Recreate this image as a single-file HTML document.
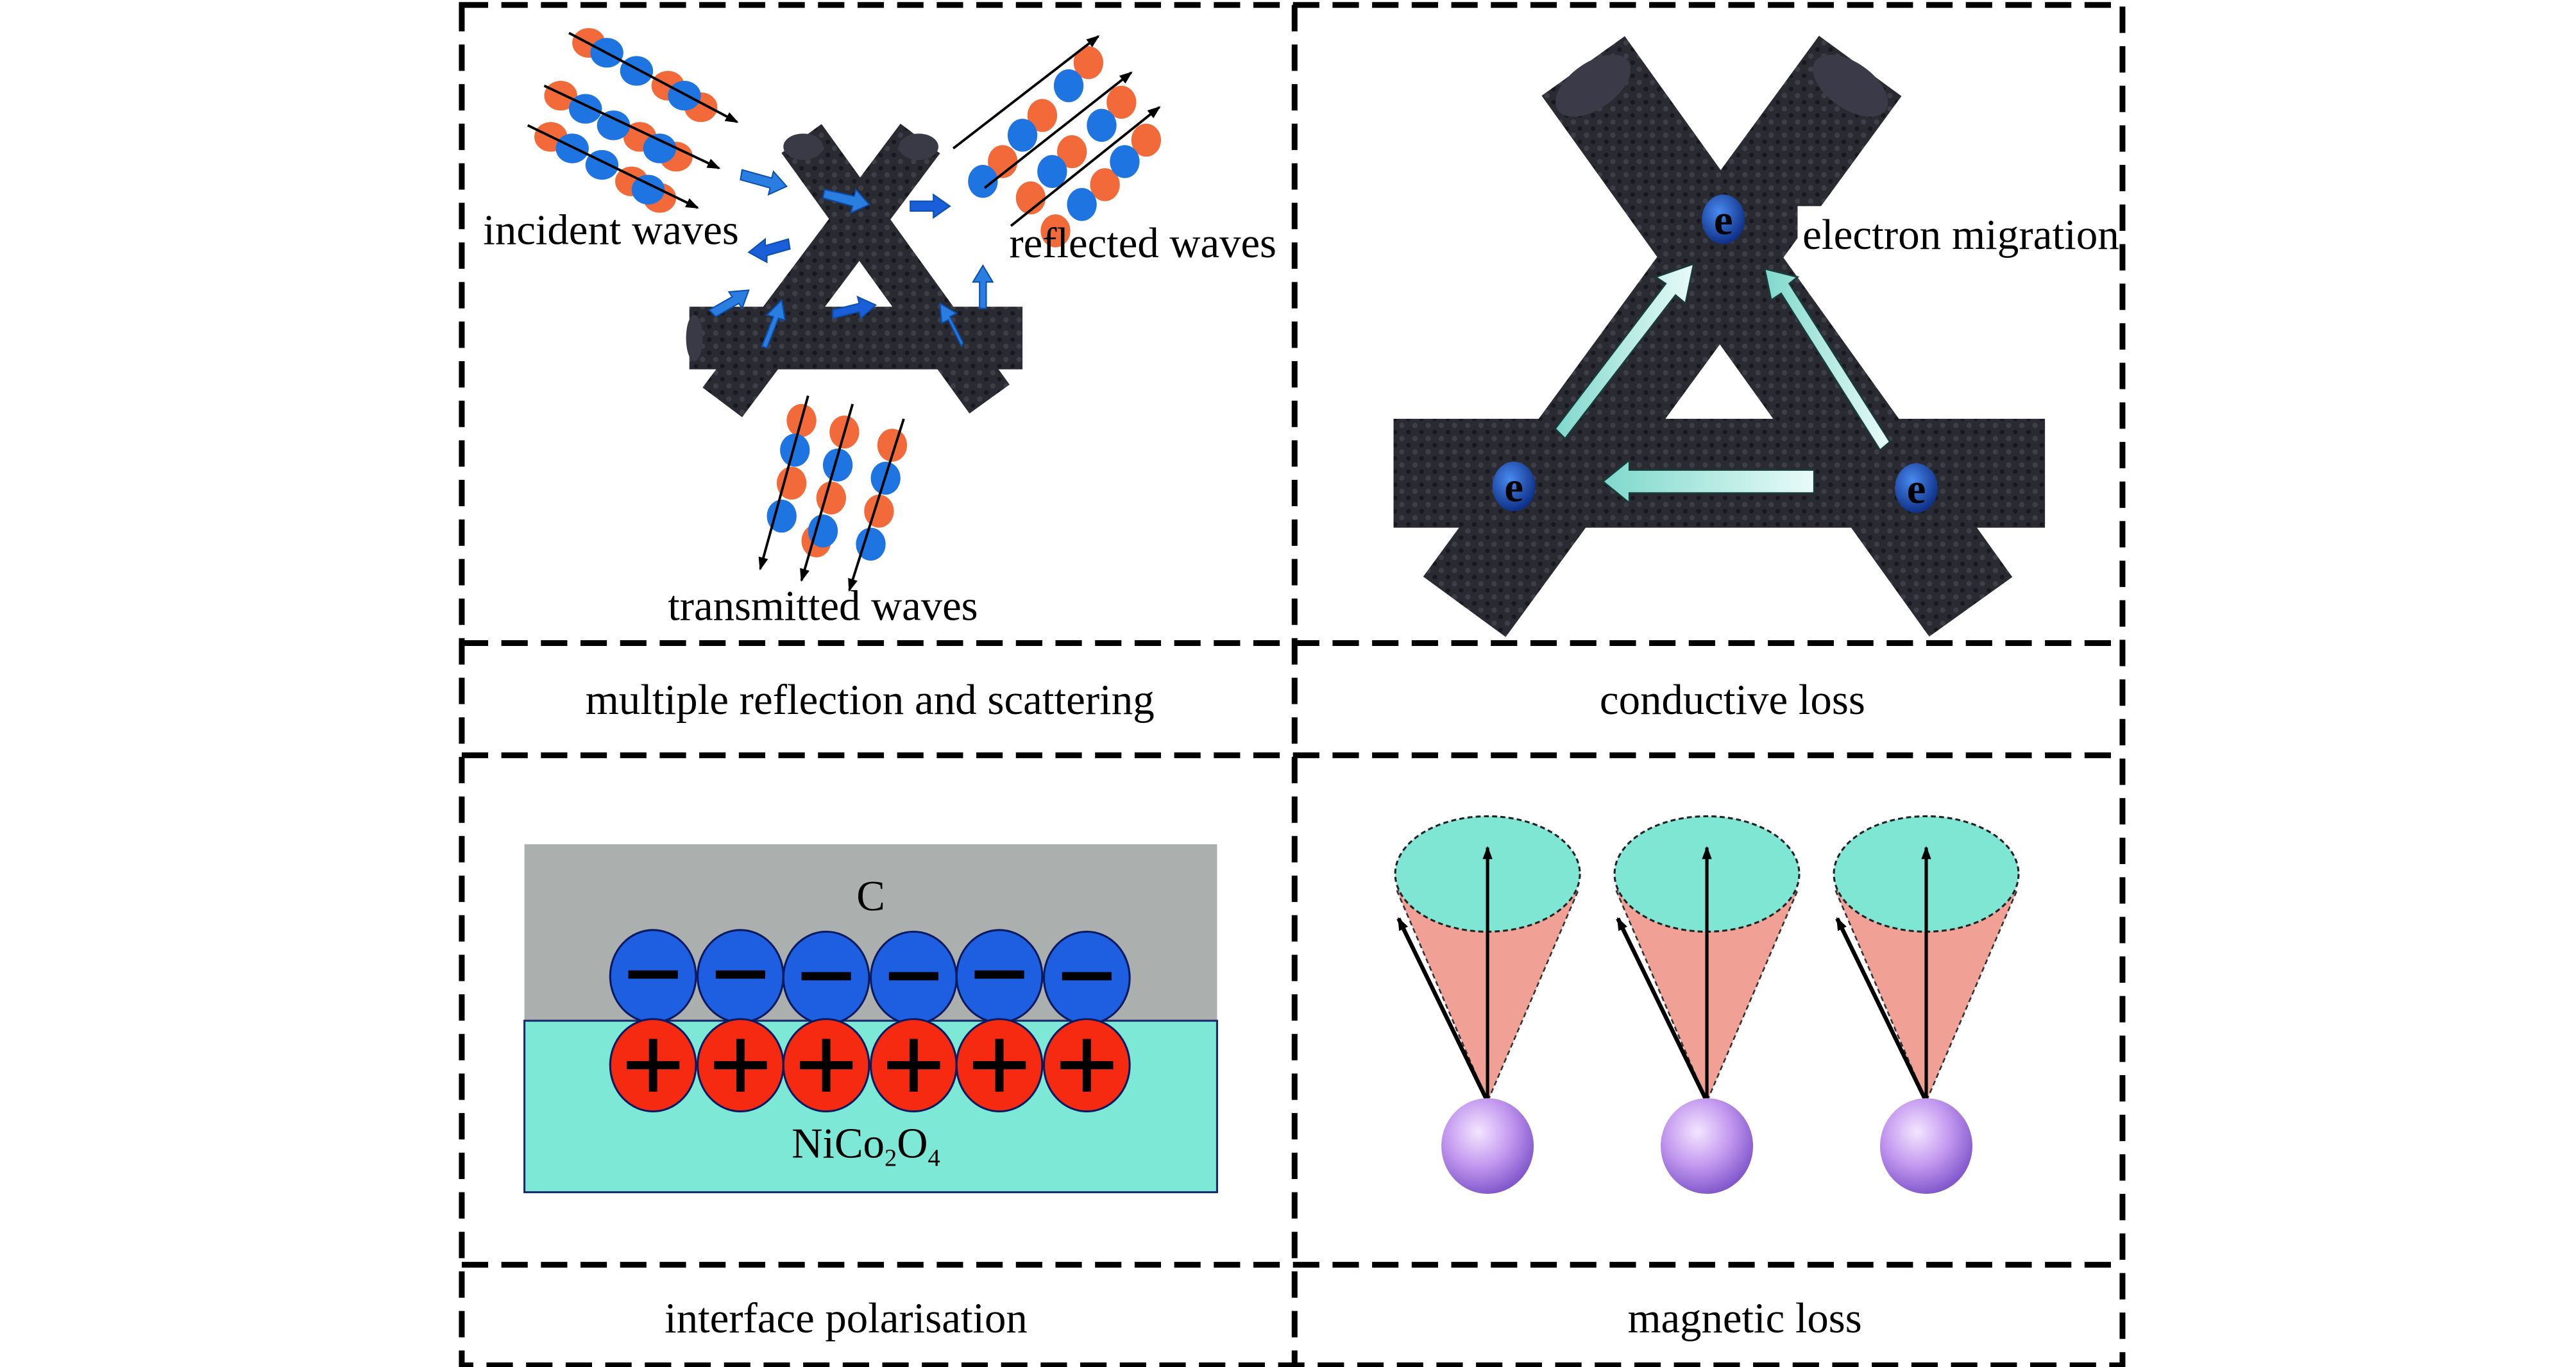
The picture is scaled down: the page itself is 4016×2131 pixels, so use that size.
<!DOCTYPE html>
<html><head><meta charset="utf-8"><style>
html,body{margin:0;padding:0;background:#fff;width:4016px;height:2131px;overflow:hidden}
svg{display:block}
text{font-family:"Liberation Serif",serif;fill:#000}
</style></head><body>
<svg width="4016" height="2131" viewBox="0 0 1562 829" preserveAspectRatio="none" xmlns="http://www.w3.org/2000/svg">
<defs>
<marker id="ah" markerWidth="8" markerHeight="8" refX="7" refY="4" orient="auto" markerUnits="userSpaceOnUse"><path d="M0,1 L8,4 L0,7 Z" fill="#000"/></marker>
<radialGradient id="sph" cx="0.4" cy="0.35" r="0.7"><stop offset="0" stop-color="#f4e6ff"/><stop offset="0.5" stop-color="#c49af0"/><stop offset="1" stop-color="#7a50c8"/></radialGradient>
<radialGradient id="el" cx="0.4" cy="0.35" r="0.7"><stop offset="0" stop-color="#4a8af0"/><stop offset="1" stop-color="#0a2a80"/></radialGradient>
<linearGradient id="cy" x1="0" y1="0" x2="1" y2="0"><stop offset="0" stop-color="#7fd8cc"/><stop offset="1" stop-color="#e8fbf8"/></linearGradient>
<pattern id="tex" width="8" height="8" patternUnits="userSpaceOnUse"><rect width="8" height="8" fill="#2a2a32"/><circle cx="2" cy="2" r="1.6" fill="#3e3e48"/><circle cx="6" cy="6" r="1.4" fill="#18181e"/></pattern>
</defs>
<g fill="none" stroke="#000" stroke-width="3.5" stroke-dasharray="16,8">
<rect x="280" y="3" width="1007" height="825"/>
<line x1="785" y1="3" x2="785" y2="828"/>
<line x1="280" y1="390" x2="1287" y2="390"/>
<line x1="280" y1="458" x2="1287" y2="458"/>
<line x1="280" y1="767" x2="1287" y2="767"/>
</g>
<!-- panel 1 rods -->
<g stroke="url(#tex)" stroke-linecap="butt">
<line x1="418" y1="205" x2="620" y2="205" stroke-width="38"/>
<line x1="486" y1="84" x2="600" y2="242" stroke-width="30"/>
<line x1="558" y1="84" x2="438" y2="244" stroke-width="30"/>
</g>
<ellipse cx="487" cy="89" rx="12" ry="8" fill="#3a3a46"/>
<ellipse cx="557" cy="89" rx="12" ry="8" fill="#3a3a46"/>
<ellipse cx="421" cy="205" rx="5" ry="14" fill="#3a3a46"/>
<!-- blue small arrows -->
<g fill="#2a7ee0" stroke="#0b4fb0" stroke-width="0.8">
<path d="M450,103 l18,5 l1,-4 l8,9 l-11,5 l1,-4 l-18,-5z"/>
<path d="M500,115 l18,4 l1,-4 l8,9 l-11,5 l1,-4 l-18,-5z"/>
<path d="M552,122 l14,0 l0,-4 l10,7 l-10,7 l0,-4 l-14,0z" fill="#1a5ed8"/>
<path d="M478,145 l-14,4 l0,-4 l-10,8 l11,6 l0,-4 l14,-4z" fill="#1a5ed8"/>
<path d="M430,188 l14,-8 l-2,-3 l12,-1 l-4,11 l-2,-3 l-14,8z"/>
<path d="M505,188 l16,-4 l-1,-4 l11,5 l-9,8 l-1,-4 l-16,4z" fill="#1a5ed8"/>
<path d="M462,210 l7,-18 l-4,-1 l9,-9 l2,12 l-4,-1 l-7,18z"/>
<path d="M583,210 l-8,-16 l-4,2 l-1,-12 l10,6 l-4,2 l8,16z"/>
<path d="M594,187 l0,-16 l-4,0 l6,-10 l6,10 l-4,0 l0,16z"/>
</g>
<!-- waves -->
<g fill="#f26a3a"><ellipse cx="357" cy="26" rx="10" ry="9"/><ellipse cx="405" cy="52" rx="10" ry="9"/><ellipse cx="340" cy="58" rx="10" ry="9"/><ellipse cx="388" cy="83" rx="10" ry="9"/><ellipse cx="334" cy="83" rx="10" ry="9"/><ellipse cx="383" cy="110" rx="10" ry="9"/><ellipse cx="425" cy="65" rx="10" ry="9"/><ellipse cx="410" cy="95" rx="10" ry="9"/><ellipse cx="400" cy="120" rx="10" ry="9"/></g>
<g fill="#1e74e0"><ellipse cx="368" cy="32" rx="10" ry="9"/><ellipse cx="386" cy="43" rx="10" ry="9"/><ellipse cx="415" cy="58" rx="10" ry="9"/><ellipse cx="355" cy="66" rx="10" ry="9"/><ellipse cx="372" cy="76" rx="10" ry="9"/><ellipse cx="400" cy="90" rx="10" ry="9"/><ellipse cx="347" cy="90" rx="10" ry="9"/><ellipse cx="365" cy="100" rx="10" ry="9"/><ellipse cx="393" cy="115" rx="10" ry="9"/></g>
<g fill="#f26a3a"><ellipse cx="660" cy="38" rx="9" ry="10"/><ellipse cx="632" cy="70" rx="9" ry="10"/><ellipse cx="608" cy="98" rx="9" ry="10"/><ellipse cx="680" cy="62" rx="9" ry="10"/><ellipse cx="650" cy="92" rx="9" ry="10"/><ellipse cx="625" cy="120" rx="9" ry="10"/><ellipse cx="695" cy="85" rx="9" ry="10"/><ellipse cx="670" cy="112" rx="9" ry="10"/><ellipse cx="640" cy="140" rx="9" ry="10"/></g>
<g fill="#1e74e0"><ellipse cx="648" cy="52" rx="9" ry="10"/><ellipse cx="620" cy="82" rx="9" ry="10"/><ellipse cx="596" cy="110" rx="9" ry="10"/><ellipse cx="668" cy="76" rx="9" ry="10"/><ellipse cx="638" cy="104" rx="9" ry="10"/><ellipse cx="682" cy="98" rx="9" ry="10"/><ellipse cx="656" cy="124" rx="9" ry="10"/></g>
<g fill="#f26a3a"><ellipse cx="486" cy="255" rx="9" ry="10"/><ellipse cx="480" cy="293" rx="9" ry="10"/><ellipse cx="512" cy="262" rx="9" ry="10"/><ellipse cx="504" cy="302" rx="9" ry="10"/><ellipse cx="541" cy="270" rx="9" ry="10"/><ellipse cx="533" cy="310" rx="9" ry="10"/><ellipse cx="495" cy="328" rx="9" ry="10"/></g>
<g fill="#1e74e0"><ellipse cx="482" cy="273" rx="9" ry="10"/><ellipse cx="474" cy="313" rx="9" ry="10"/><ellipse cx="508" cy="282" rx="9" ry="10"/><ellipse cx="499" cy="322" rx="9" ry="10"/><ellipse cx="537" cy="290" rx="9" ry="10"/><ellipse cx="528" cy="330" rx="9" ry="10"/></g>
<g stroke="#000" stroke-width="1.5" marker-end="url(#ah)">
<line x1="345" y1="20" x2="447" y2="74"/><line x1="330" y1="52" x2="436" y2="102"/><line x1="320" y1="76" x2="423" y2="126"/>
<line x1="578" y1="90" x2="666" y2="22"/><line x1="597" y1="114" x2="686" y2="44"/><line x1="613" y1="137" x2="703" y2="65"/>
<line x1="490" y1="240" x2="461" y2="345"/><line x1="517" y1="245" x2="486" y2="352"/><line x1="548" y1="254" x2="515" y2="358"/>
</g>
<g font-size="26">
<text x="293" y="148" textLength="155" lengthAdjust="spacingAndGlyphs">incident waves</text>
<text x="612" y="156" textLength="162" lengthAdjust="spacingAndGlyphs">reflected waves</text>
<text x="405" y="376" textLength="188" lengthAdjust="spacingAndGlyphs">transmitted waves</text>
<text x="355" y="433" textLength="345" lengthAdjust="spacingAndGlyphs">multiple reflection and scattering</text>
<text x="970" y="433" textLength="161" lengthAdjust="spacingAndGlyphs">conductive loss</text>
<text x="403" y="808" textLength="220" lengthAdjust="spacingAndGlyphs">interface polarisation</text>
<text x="987" y="808" textLength="142" lengthAdjust="spacingAndGlyphs">magnetic loss</text>
</g>
<!-- panel 2 -->
<g stroke="url(#tex)">
<line x1="845" y1="287" x2="1240" y2="287" stroke-width="66"/>
<line x1="960" y1="40" x2="1195" y2="368" stroke-width="62"/>
<line x1="1128" y1="40" x2="888" y2="368" stroke-width="62"/>
</g>
<ellipse cx="966" cy="52" rx="26" ry="14" fill="#3a3a48" transform="rotate(-35 966 52)"/>
<ellipse cx="1122" cy="52" rx="26" ry="14" fill="#3a3a48" transform="rotate(35 1122 52)"/>
<g fill="url(#cy)" stroke="#1a3a3a" stroke-width="1">
<path d="M943,260 L1010,172 L1004,168 L1027,160 L1022,184 L1016,179 L949,266 Z"/>
<path d="M1140,273 L1080,178 L1074,182 L1070,163 L1090,168 L1085,172 L1146,268 Z"/>
<path d="M1100,285 L988,285 L988,279 L972,292 L988,305 L988,299 L1100,299 Z"/>
</g>
<ellipse cx="1045" cy="133" rx="13" ry="15" fill="url(#el)"/>
<ellipse cx="918" cy="295" rx="13" ry="15" fill="url(#el)"/>
<ellipse cx="1162" cy="296" rx="13" ry="15" fill="url(#el)"/>
<text x="1045" y="142" font-size="26" font-weight="bold" text-anchor="middle">e</text>
<text x="918" y="304" font-size="26" font-weight="bold" text-anchor="middle">e</text>
<text x="1162" y="305" font-size="26" font-weight="bold" text-anchor="middle">e</text>
<rect x="1090" y="125" width="195" height="34" fill="#fff"/>
<text x="1093" y="151" font-size="26" textLength="192" lengthAdjust="spacingAndGlyphs">electron migration</text>
<!-- panel 3 -->
<rect x="318" y="512" width="420" height="107" fill="#abb0ae"/>
<rect x="318" y="619" width="420" height="104" fill="#7ee8d6" stroke="#1a2a6a" stroke-width="1.2"/>
<text x="528" y="552" font-size="26" text-anchor="middle">C</text>
<g stroke="#0a1a60" stroke-width="1.2">
<g fill="#1d5fe0"><ellipse cx="396" cy="592" rx="26" ry="28"/><ellipse cx="449" cy="592" rx="26" ry="28"/><ellipse cx="501" cy="593" rx="26" ry="28"/><ellipse cx="554" cy="593" rx="26" ry="28"/><ellipse cx="606" cy="592" rx="26" ry="28"/><ellipse cx="659" cy="593" rx="26" ry="28"/></g>
<g fill="#f52a10"><ellipse cx="396" cy="646" rx="26" ry="28"/><ellipse cx="449" cy="646" rx="26" ry="28"/><ellipse cx="501" cy="646" rx="26" ry="28"/><ellipse cx="554" cy="646" rx="26" ry="28"/><ellipse cx="606" cy="646" rx="26" ry="28"/><ellipse cx="659" cy="646" rx="26" ry="28"/></g>
</g>
<g stroke="#000" stroke-width="5">
<path d="M381,591h30M434,591h30M486,592h30M539,592h30M591,591h30M644,592h30"/>
<path d="M380,646h32M396,630v32M433,646h32M449,630v32M485,646h32M501,630v32M538,646h32M554,630v32M590,646h32M606,630v32M643,646h32M659,630v32"/>
</g>
<text x="480" y="702" font-size="26">NiCo<tspan font-size="15" dy="5">2</tspan><tspan dy="-5">O</tspan><tspan font-size="15" dy="5">4</tspan></text>
<!-- panel 4 -->
<g id="cone">
<path d="M847,540 L902,668 L957,540 Z" fill="#f0a094" stroke="#333" stroke-width="1" stroke-dasharray="3,2"/>
<ellipse cx="902" cy="530" rx="56" ry="35" fill="#80e6d4" stroke="#222" stroke-width="1.2" stroke-dasharray="3,2"/>
<line x1="902" y1="668" x2="902" y2="514" stroke="#000" stroke-width="2" marker-end="url(#ah)"/>
<line x1="902" y1="668" x2="848" y2="557" stroke="#000" stroke-width="2.5" marker-end="url(#ah)"/>
<ellipse cx="902" cy="695" rx="28" ry="29" fill="url(#sph)"/>
</g>
<use href="#cone" x="133"/>
<use href="#cone" x="266"/>
</svg>
</body></html>
